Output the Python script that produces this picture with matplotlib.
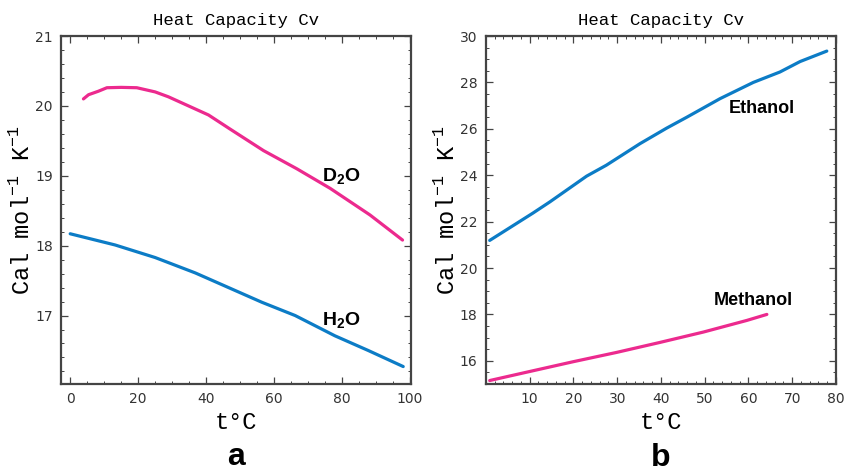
import numpy as np
import matplotlib
matplotlib.use("Agg")
import matplotlib.pyplot as plt
from matplotlib.ticker import MultipleLocator, FixedLocator

plt.rcParams['mathtext.fontset'] = 'custom'
plt.rcParams['mathtext.rm'] = 'Liberation Mono'
plt.rcParams['mathtext.bf'] = 'Liberation Sans:bold'

# panel a: water
h2o_t = [0, 13.2, 25, 36.8, 46.6, 56.4, 66.2, 77.9, 87.7, 98]
h2o_cv = [18.17, 18.01, 17.83, 17.61, 17.40, 17.19, 17.00, 16.71, 16.50, 16.27]
d2o_t = [3.9, 5.4, 8.3, 10.8, 15, 19.6, 25, 28.9, 34.8, 40.7, 47, 56.9, 66.7, 76.5, 88.2, 97.8]
d2o_cv = [20.10, 20.16, 20.21, 20.26, 20.265, 20.26, 20.20, 20.13, 20.00, 19.87, 19.67,
          19.36, 19.10, 18.82, 18.44, 18.08]

# panel b: alcohols
eth_t = [0.85, 10.75, 14.6, 23, 27.5, 35.2, 41.3, 45.9, 53.5, 61.1, 67.2, 71.8, 77.9]
eth_cv = [21.19, 22.37, 22.85, 23.96, 24.43, 25.36, 26.03, 26.5, 27.3, 28.0, 28.45, 28.9, 29.35]
meth_t = [0.85, 10, 19.9, 29.8, 39.7, 49.7, 59.6, 64.2]
meth_cv = [15.15, 15.54, 15.96, 16.36, 16.79, 17.24, 17.74, 18.0]

blue = '#0c7cc6'
pink = '#ec2a8e'
frame = '#444444'

fig = plt.figure(figsize=(8.44, 4.72), dpi=100)
ax1 = fig.add_axes([0.0723, 0.1864, 0.4143, 0.7373])
ax2 = fig.add_axes([0.5758, 0.1864, 0.4147, 0.7373])


def style(ax):
    for s in ax.spines.values():
        s.set_color(frame)
        s.set_linewidth(1.6)
    ax.tick_params(which='both', direction='in', top=True, right=True,
                   color=frame, labelsize=10, labelcolor='#333333', pad=6)
    ax.tick_params(which='major', length=5, width=0.9)
    ax.tick_params(which='minor', length=2.5, width=0.7)
    ax.set_title('Heat Capacity Cv', family='Liberation Mono', fontsize=12.5, pad=8)
    ax.set_xlabel('t°C', family='Liberation Mono', fontsize=17, labelpad=3)
    ax.set_ylabel(r'Cal mol$^{-1}$ K$^{-1}$', family='Liberation Mono', fontsize=17,
                  labelpad=1)


ax1.plot(h2o_t, h2o_cv, color=blue, lw=2.3, solid_capstyle='round')
ax1.plot(d2o_t, d2o_cv, color=pink, lw=2.3, solid_capstyle='round')
ax1.set_xlim(-2.7, 100.2)
ax1.set_ylim(16.02, 21)
ax1.xaxis.set_major_locator(MultipleLocator(20))
ax1.xaxis.set_minor_locator(MultipleLocator(5))
ax1.yaxis.set_major_locator(MultipleLocator(1))
ax1.yaxis.set_minor_locator(MultipleLocator(0.2))
style(ax1)
ax1.text(79.7, 19.0, r'$\mathbf{D_2O}$', fontsize=14, ha='center', va='center')
ax1.text(79.7, 16.94, r'$\mathbf{H_2O}$', fontsize=14, ha='center', va='center')

ax2.plot(eth_t, eth_cv, color=blue, lw=2.3, solid_capstyle='round')
ax2.plot(meth_t, meth_cv, color=pink, lw=2.3, solid_capstyle='round')
ax2.set_xlim(0, 80)
ax2.set_ylim(15, 30)
ax2.xaxis.set_major_locator(FixedLocator(np.arange(10, 81, 10)))
ax2.xaxis.set_minor_locator(MultipleLocator(2))
ax2.yaxis.set_major_locator(MultipleLocator(2))
ax2.yaxis.set_minor_locator(MultipleLocator(0.5))
style(ax2)
ax2.text(63.1, 26.87, 'Ethanol', family='Liberation Sans', weight='bold',
         fontsize=13, ha='center', va='center')
ax2.text(61.0, 18.6, 'Methanol', family='Liberation Sans', weight='bold',
         fontsize=13, ha='center', va='center')

fig.text(0.2795, 0.015, 'a', family='Liberation Sans', weight='bold', fontsize=23,
         ha='center', va='baseline')
fig.text(0.7831, 0.013, 'b', family='Liberation Sans', weight='bold', fontsize=23,
         ha='center', va='baseline')

fig.savefig('out.png', dpi=100)
